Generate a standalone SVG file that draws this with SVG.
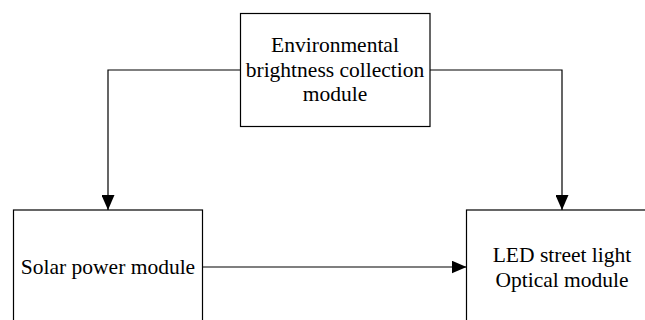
<svg xmlns="http://www.w3.org/2000/svg" width="645" height="320" viewBox="0 0 645 320">
<style>
.box{fill:#fff;stroke:#000;stroke-width:1.2}
.t{font-family:"Liberation Serif","Times New Roman",serif;font-size:21.5px;fill:#000;text-anchor:middle}
.c{fill:none;stroke:#000;stroke-width:1.2}
</style>
<defs>
<marker id="ah" viewBox="0 0 15 13" refX="15" refY="6.5" markerWidth="15" markerHeight="13" markerUnits="userSpaceOnUse" orient="auto">
<path d="M0,0 L15,6.5 L0,13 Z" fill="#000"/>
</marker>
</defs>
<g id="connectors">
<path class="c" d="M240.5,70 H108 V210" marker-end="url(#ah)"/>
<path class="c" d="M430,70 H562 V210" marker-end="url(#ah)"/>
<path class="c" d="M202.5,267 H466.5" marker-end="url(#ah)"/>
</g>
<g id="env">
<rect class="box" x="240.5" y="13.5" width="189.5" height="113"/>
<text class="t" x="335" y="52">Environmental</text>
<text class="t" x="335" y="77">brightness collection</text>
<text class="t" x="335" y="101">module</text>
</g>
<g id="solar">
<rect class="box" x="13.5" y="210" width="189" height="120"/>
<text class="t" x="108" y="274">Solar power module</text>
</g>
<g id="led">
<rect class="box" x="466.5" y="210" width="190" height="120"/>
<text class="t" x="562" y="262">LED street light</text>
<text class="t" x="562" y="287">Optical module</text>
</g>
</svg>
